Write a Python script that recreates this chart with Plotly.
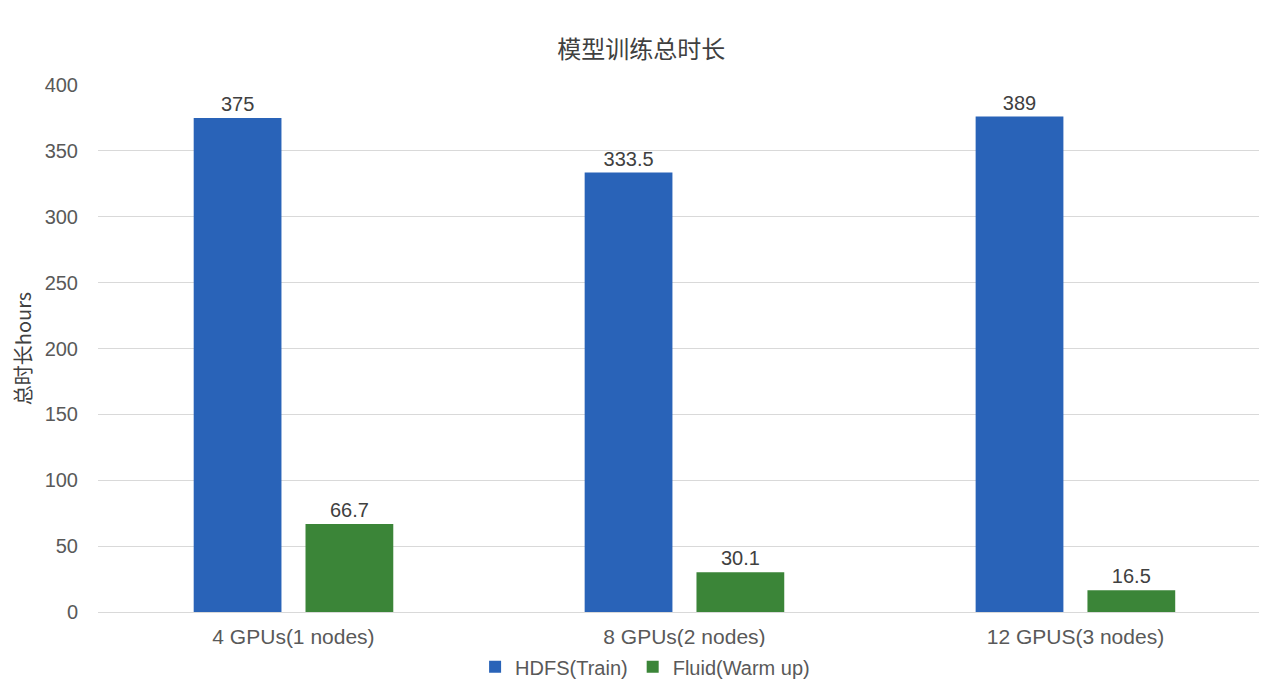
import plotly.graph_objects as go

# Data
categories = ["4 GPUs(1 nodes)", "8 GPUs(2 nodes)", "12 GPUS(3 nodes)"]
hdfs_heights = [375, 333.5, 376]          # drawn bar heights
hdfs_labels = ["375", "333.5", "389"]      # printed data labels
fluid_values = [66.7, 30.1, 16.5]
fluid_labels = ["66.7", "30.1", "16.5"]
y_ticks = [0, 50, 100, 150, 200, 250, 300, 350, 400]

BLUE = "#2963B8"
GREEN = "#3B8538"
FONT = "Liberation Sans, Arial, Noto Sans CJK SC, sans-serif"
CJK = "Noto Sans CJK SC, sans-serif"

fig = go.Figure()

fig.add_trace(go.Bar(
    x=categories, y=hdfs_heights, name="HDFS(Train)",
    marker_color=BLUE, marker_line_width=0,
    text=hdfs_labels, textposition="outside",
    textfont=dict(size=20, color="#404040", family=FONT),
    cliponaxis=False,
))
fig.add_trace(go.Bar(
    x=categories, y=fluid_values, name="Fluid(Warm up)",
    marker_color=GREEN, marker_line_width=0,
    text=fluid_labels, textposition="outside",
    textfont=dict(size=20, color="#404040", family=FONT),
    cliponaxis=False,
))

fig.update_layout(
    width=1259, height=685,
    paper_bgcolor="white", plot_bgcolor="white",
    font=dict(family=FONT, color="#595959", size=20),
    title=dict(text="模型训练总时长", x=0.503, xanchor="center", y=0.940, yanchor="middle",
               font=dict(size=24, color="#404040", family=CJK)),
    margin=dict(l=90, r=0, t=77, b=81),
    barmode="group", bargap=0.428, bargroupgap=0.215,
    showlegend=True,
    legend=dict(orientation="h", x=0.468, xanchor="center", y=-0.104, yanchor="middle",
                font=dict(size=20, color="#595959"), itemwidth=30,
                traceorder="normal"),
)

fig.update_xaxes(range=[-0.5, 2.49], showgrid=False, showline=True,
                 linecolor="#D9D9D9", linewidth=1,
                 ticks="", ticklabelstandoff=6,
                 tickfont=dict(size=21, color="#595959"))
fig.update_yaxes(range=[0, 400], tickvals=y_ticks, showgrid=True, gridcolor="#D9D9D9",
                 gridwidth=1, zeroline=False, showline=False, ticks="",
                 ticklabelstandoff=19,
                 tickfont=dict(size=20, color="#595959"),
                 title=dict(text="总时长hours", standoff=8,
                            font=dict(size=20, color="#404040", family=CJK)))

fig.write_html("out.html")
